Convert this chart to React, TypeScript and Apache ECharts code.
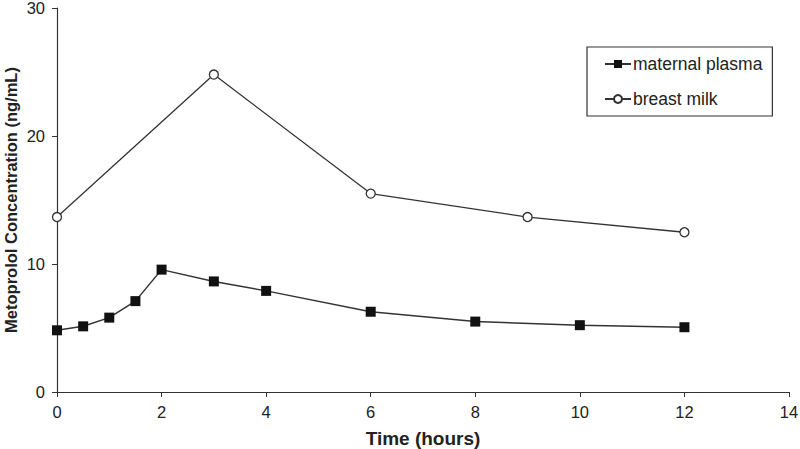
import React, { useEffect, useRef } from "react";
import * as echarts from "echarts";

const plasmaTimes = [0, 0.5, 1, 1.5, 2, 3, 4, 6, 8, 10, 12];
const plasmaValues = [4.82, 5.13, 5.81, 7.1, 9.56, 8.64, 7.9, 6.27, 5.5, 5.22, 5.06];
const milkTimes = [0, 3, 6, 9, 12];
const milkValues = [13.67, 24.8, 15.5, 13.67, 12.48];
const seriesNames = ["maternal plasma", "breast milk"];
const xTitle = "Time (hours)";
const yTitle = "Metoprolol Concentration (ng/mL)";

export default function App() {
  const ref = useRef<HTMLDivElement>(null);
  useEffect(() => {
    if (!ref.current) return;
    const chart = echarts.init(ref.current, null, { renderer: "svg" });
    const font = "'Liberation Sans', Arial, sans-serif";
    const axisLine = { show: true, lineStyle: { color: "#333", width: 1.2 } };
    chart.setOption({
      animation: false,
      backgroundColor: "#fff",
      textStyle: { fontFamily: font },
      grid: { left: 57, right: 11, top: 8, bottom: 57, containLabel: false, outerBoundsMode: "none" },
      graphic: [
        {
          type: "text",
          x: 11,
          y: 200,
          rotation: Math.PI / 2,
          style: {
            text: yTitle,
            font: `bold 16.5px ${font}`,
            fill: "#222",
            align: "center",
            verticalAlign: "middle",
          },
        },
      ],
      legend: {
        orient: "vertical",
        left: 587,
        top: 47,
        width: 196,
        height: 70,
        padding: [8, 10, 8, 17],
        itemGap: 17,
        itemWidth: 26,
        itemHeight: 10,
        borderColor: "#333",
        borderWidth: 1.2,
        borderRadius: 0,
        textStyle: { fontSize: 17.5, color: "#222", fontFamily: font, padding: [0, 0, 0, -3] },
        data: seriesNames,
      },
      xAxis: {
        type: "value",
        min: 0,
        max: 14,
        interval: 2,
        name: xTitle,
        nameLocation: "middle",
        nameGap: 37,
        nameTextStyle: { fontSize: 19, fontWeight: "bold", color: "#222", fontFamily: font },
        axisLine,
        axisTick: { show: true, inside: false, length: 5, lineStyle: { color: "#333" } },
        axisLabel: { fontSize: 16.5, color: "#222", margin: 11, fontFamily: font },
        splitLine: { show: false },
      },
      yAxis: {
        type: "value",
        min: 0,
        max: 30,
        interval: 10,
        axisLine,
        axisTick: { show: true, inside: false, length: 5, lineStyle: { color: "#333" } },
        axisLabel: { fontSize: 16.5, color: "#222", margin: 12, fontFamily: font },
        splitLine: { show: false },
      },
      series: [
        {
          name: seriesNames[0],
          type: "line",
          data: plasmaTimes.map((t, i) => [t, plasmaValues[i]]),
          symbol: "rect",
          symbolSize: 10,
          lineStyle: { color: "#333", width: 1.5 },
          itemStyle: { color: "#111", borderColor: "#111", borderWidth: 0 },
        },
        {
          name: seriesNames[1],
          type: "line",
          data: milkTimes.map((t, i) => [t, milkValues[i]]),
          symbol: "circle",
          symbolSize: 9,
          lineStyle: { color: "#333", width: 1.3 },
          itemStyle: { color: "#fff", borderColor: "#333", borderWidth: 1.3 },
        },
      ],
    });
    return () => chart.dispose();
  }, []);
  return <div ref={ref} style={{ width: 800, height: 449, position: "absolute", left: 0, top: 0 }} />;
}
